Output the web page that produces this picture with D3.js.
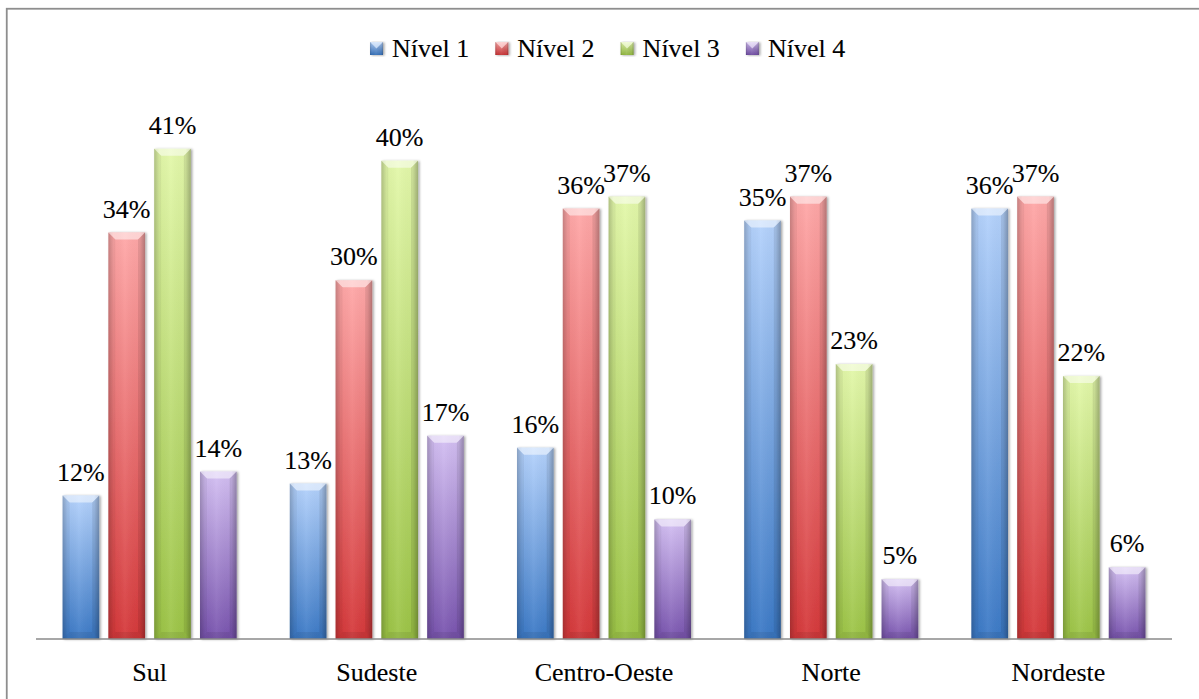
<!DOCTYPE html>
<html>
<head>
<meta charset="utf-8">
<script src="https://cdn.jsdelivr.net/npm/d3@7"></script>
<style>
  html, body { margin: 0; padding: 0; background: #fff; }
  svg { display: block; }
  text { font-family: "Liberation Serif", "DejaVu Serif", serif; fill: #000; stroke: #000; stroke-width: 0.12px; }
</style>
</head>
<body>
<svg id="chart" width="1199" height="699"></svg>
<script>
// Regions and performance levels
const regions = ["Sul", "Sudeste", "Centro-Oeste", "Norte", "Nordeste"];
const levels = ["Nível 1", "Nível 2", "Nível 3", "Nível 4"];

// Share of each level per region (%)
const nivel1 = [12, 13, 16, 35, 36];
const nivel2 = [34, 30, 36, 37, 37];
const nivel3 = [41, 40, 37, 23, 22];
const nivel4 = [14, 17, 10, 5, 6];
const seriesValues = [nivel1, nivel2, nivel3, nivel4];

// Light (top) and deep (bottom) tone of each series
const topColors = ["#b4d2fc", "#ffa8a8", "#e3f8aa", "#d4c0f3"];
const bottomColors = ["#3b79c6", "#d5383a", "#9cc446", "#7853ae"];

const W = 1199, H = 699;
const plot = { left: 36, right: 1172, base: 639, top: 101 };
const FONT = 26;

const svg = d3.select("#chart");
const defs = svg.append("defs");

levels.forEach((lv, i) => {
  const g = defs.append("linearGradient")
    .attr("id", "fill" + i).attr("x1", 0).attr("y1", 0).attr("x2", 0).attr("y2", 1);
  g.append("stop").attr("offset", "0%").attr("stop-color", topColors[i]);
  g.append("stop").attr("offset", "100%").attr("stop-color", bottomColors[i]);
});

// Darker side edges across each bar
const edge = defs.append("linearGradient").attr("id", "edges")
  .attr("x1", 0).attr("y1", 0).attr("x2", 1).attr("y2", 0);
edge.append("stop").attr("offset", "0%").attr("stop-color", "#000").attr("stop-opacity", 0.18);
edge.append("stop").attr("offset", "14%").attr("stop-color", "#000").attr("stop-opacity", 0.02);
edge.append("stop").attr("offset", "45%").attr("stop-color", "#fff").attr("stop-opacity", 0.06);
edge.append("stop").attr("offset", "86%").attr("stop-color", "#000").attr("stop-opacity", 0.02);
edge.append("stop").attr("offset", "100%").attr("stop-color", "#000").attr("stop-opacity", 0.22);

const shadow = defs.append("filter").attr("id", "shadow")
  .attr("x", "-20%").attr("y", "-5%").attr("width", "150%").attr("height", "115%");
shadow.append("feDropShadow").attr("dx", 1.5).attr("dy", 0.5)
  .attr("stdDeviation", 1).attr("flood-color", "#000").attr("flood-opacity", 0.35);

// Outer frame (runs off the right and bottom edges)
svg.append("rect")
  .attr("x", 6.75).attr("y", 8.75).attr("width", W + 20).attr("height", H + 20)
  .attr("fill", "none").attr("stroke", "#8e8e8e").attr("stroke-width", 1.8);

const x0 = d3.scaleBand().domain(regions).range([plot.left, plot.right])
  .paddingInner(0.234).paddingOuter(0.117);
const x1 = d3.scaleBand().domain(levels).range([0, x0.bandwidth()])
  .paddingInner(0.2).paddingOuter(0);
const y = d3.scaleLinear().domain([0, 45]).range([plot.base, plot.top]);

// Draws one bevelled bar inside group g
function bevelBar(g, bx, by, bw, bh, i) {
  const b = Math.min(7, bh / 2, bw / 2);
  const bar = g.append("g").attr("filter", "url(#shadow)");
  bar.append("rect").attr("x", bx).attr("y", by).attr("width", bw).attr("height", bh)
    .attr("fill", `url(#fill${i})`);
  bar.append("rect").attr("x", bx).attr("y", by).attr("width", bw).attr("height", bh)
    .attr("fill", "url(#edges)");
  const poly = (pts, fill, op) => bar.append("polygon")
    .attr("points", pts.map(p => p.join(",")).join(" "))
    .attr("fill", fill).attr("fill-opacity", op);
  // top facet
  poly([[bx, by], [bx + bw, by], [bx + bw - b, by + b], [bx + b, by + b]], "#fff", 0.5);
  // side facets
  poly([[bx, by], [bx + b, by + b], [bx + b, by + bh - b], [bx, by + bh]], "#000", 0.05);
  poly([[bx + bw, by], [bx + bw - b, by + b], [bx + bw - b, by + bh - b], [bx + bw, by + bh]], "#000", 0.09);
  // bottom facet
  poly([[bx, by + bh], [bx + b, by + bh - b], [bx + bw - b, by + bh - b], [bx + bw, by + bh]], "#000", 0.07);
}

const groups = svg.append("g").selectAll("g").data(regions).join("g")
  .attr("transform", d => `translate(${x0(d)},0)`);

groups.each(function (region, r) {
  const g = d3.select(this);
  levels.forEach((lv, i) => {
    const v = seriesValues[i][r];
    const bx = x1(lv), bw = x1.bandwidth();
    bevelBar(g, bx, y(v), bw, plot.base - y(v), i);
    g.append("text")
      .attr("x", bx + bw / 2).attr("y", y(v) - 15)
      .attr("text-anchor", "middle").attr("font-size", FONT)
      .text(v + "%");
  });
});

// Category axis
const axis = svg.append("g").attr("transform", `translate(0,${plot.base})`)
  .call(d3.axisBottom(x0).tickSize(0).tickPadding(0));
axis.select(".domain").attr("stroke", "#8a8a8a").attr("stroke-width", 1.6)
  .attr("d", `M${plot.left},0H${plot.right}`);
axis.selectAll("text").attr("font-size", FONT).attr("dy", 0).attr("y", 42)
  .attr("font-family", "Liberation Serif").attr("fill", "#000");

// Legend
const legend = svg.append("g");
const legendStart = 370, legendStep = 125.3;
levels.forEach((lv, i) => {
  const lg = legend.append("g").attr("transform", `translate(${legendStart + i * legendStep},0)`);
  bevelBar(lg, 0, 42, 13, 13, i);
  lg.append("text").attr("x", 22).attr("y", 57).attr("font-size", FONT).text(lv);
});
</script>
</body>
</html>
